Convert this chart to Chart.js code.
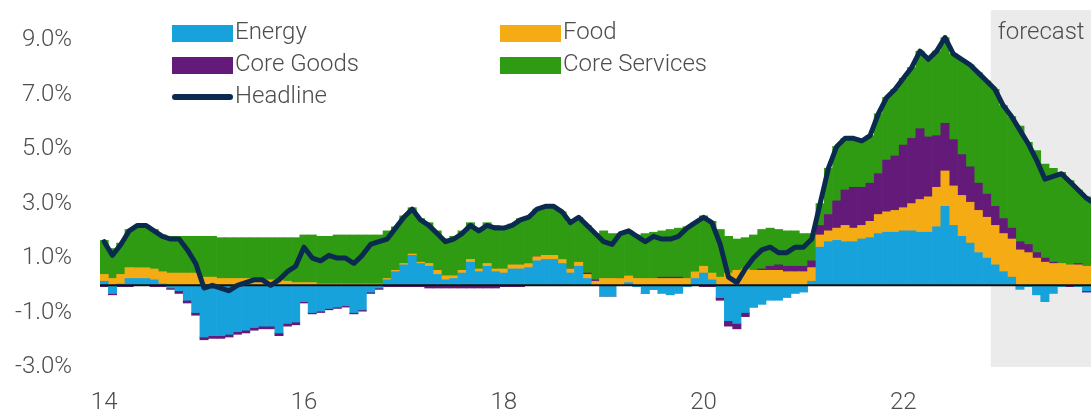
<!DOCTYPE html>
<html>
<head>
<meta charset="utf-8">
<script src="https://cdn.jsdelivr.net/npm/chart.js@4.4.1/dist/chart.umd.min.js"></script>
<style>
  html, body { margin: 0; padding: 0; background: #fff; overflow: hidden; }
  #wrap { width: 1099px; height: 415px; }
</style>
</head>
<body>
<div id="wrap"><canvas id="cpiChart" width="1099" height="415"></canvas></div>
<script>
// Categories: one bar per month, Jan 2014 - Dec 2023
const years = [2014, 2015, 2016, 2017, 2018, 2019, 2020, 2021, 2022, 2023];
const monthNames = ['Jan', 'Feb', 'Mar', 'Apr', 'May', 'Jun', 'Jul', 'Aug', 'Sep', 'Oct', 'Nov', 'Dec'];
const months = years.flatMap(y => monthNames.map(m => m + ' ' + y));

const xTickYears = [2014, 2016, 2018, 2020, 2022];
const yTicks = [-3, -1, 1, 3, 5, 7, 9];
const forecastStart = 'Dec 2022';

// Contributions to y/y CPI, pp (one row per year)
const energy = [
  0.15, -0.3, 0.05, 0.25, 0.25, 0.25, 0.2, 0.05, -0.1, -0.2, -0.55, -1.0,
  -1.9, -1.85, -1.85, -1.8, -1.7, -1.65, -1.55, -1.5, -1.5, -1.75, -1.4, -1.35,
  -0.6, -1.0, -0.95, -0.85, -0.8, -0.75, -1.0, -0.9, -0.25, -0.1, 0.2, 0.5,
  0.75, 1.1, 0.8, 0.7, 0.4, 0.2, 0.25, 0.45, 0.85, 0.5, 0.7, 0.5,
  0.45, 0.6, 0.6, 0.65, 0.9, 0.95, 0.95, 0.8, 0.45, 0.7, 0.25, 0.0,
  -0.4, -0.4, 0.0, 0.1, -0.05, -0.3, -0.15, -0.3, -0.35, -0.3, -0.05, 0.25,
  0.45, 0.2, -0.45, -1.3, -1.4, -1.0, -0.8, -0.7, -0.55, -0.55, -0.45, -0.3,
  -0.25, 0.15, 1.4, 1.6, 1.65, 1.6, 1.6, 1.7, 1.75, 1.9, 1.95, 1.95,
  2.0, 2.0, 1.95, 1.95, 2.15, 2.9, 2.2, 1.8, 1.55, 1.2, 1.0, 0.75,
  0.5, 0.3, -0.15, -0.05, -0.35, -0.6, -0.3, -0.05, 0.0, -0.05, -0.2, -0.05
];

const food = [
  0.25, 0.25, 0.35, 0.4, 0.4, 0.4, 0.4, 0.45, 0.45, 0.45, 0.45, 0.45,
  0.3, 0.3, 0.25, 0.25, 0.25, 0.25, 0.2, 0.2, 0.2, 0.2, 0.15, 0.1,
  0.1, 0.1, 0.05, 0.05, 0.05, 0.05, 0.05, 0.05, 0.05, 0.05, 0.05, 0.05,
  0.05, 0.05, 0.05, 0.1, 0.15, 0.15, 0.1, 0.1, 0.1, 0.1, 0.1, 0.1,
  0.15, 0.15, 0.15, 0.15, 0.15, 0.15, 0.15, 0.15, 0.15, 0.15, 0.15, 0.15,
  0.25, 0.25, 0.25, 0.25, 0.25, 0.25, 0.25, 0.25, 0.25, 0.25, 0.25, 0.25,
  0.25, 0.25, 0.3, 0.45, 0.55, 0.6, 0.55, 0.55, 0.55, 0.55, 0.5, 0.5,
  0.5, 0.5, 0.45, 0.4, 0.45, 0.6, 0.5, 0.5, 0.6, 0.7, 0.75, 0.8,
  0.85, 1.0, 1.2, 1.3, 1.45, 1.3, 1.45, 1.5, 1.5, 1.55, 1.5, 1.45,
  1.4, 1.4, 1.3, 1.2, 1.0, 0.85, 0.8, 0.8, 0.75, 0.75, 0.7, 0.65
];

const coreGoods = [
  -0.05, -0.05, -0.05, -0.05, 0.0, 0.0, -0.05, -0.05, -0.05, -0.1, -0.1, -0.1,
  -0.1, -0.1, -0.1, -0.1, -0.1, -0.1, -0.1, -0.1, -0.1, -0.1, -0.1, -0.1,
  -0.05, -0.05, -0.05, -0.05, -0.05, -0.05, -0.05, -0.05, -0.05, -0.05, -0.05, -0.05,
  -0.05, -0.05, -0.05, -0.1, -0.1, -0.1, -0.1, -0.1, -0.1, -0.1, -0.1, -0.1,
  -0.05, -0.05, -0.05, 0.0, 0.0, 0.0, 0.0, 0.0, 0.0, 0.0, 0.05, 0.05,
  0.0, 0.0, 0.0, 0.0, 0.0, 0.0, 0.0, 0.05, 0.05, 0.05, 0.0, 0.0,
  -0.05, -0.05, -0.1, -0.2, -0.2, -0.15, 0.0, 0.05, 0.15, 0.2, 0.2, 0.2,
  0.2, 0.25, 0.35, 0.6, 1.0, 1.3, 1.5, 1.4, 1.4, 1.5, 1.9, 2.0,
  2.3, 2.4, 2.6, 2.2, 1.9, 1.75, 1.7, 1.5, 1.3, 1.0, 0.85, 0.7,
  0.55, 0.4, 0.3, 0.3, 0.2, 0.15, 0.05, 0.0, -0.05, 0.05, -0.05, -0.1
];

const coreServices = [
  1.25, 1.1, 1.15, 1.4, 1.55, 1.55, 1.45, 1.35, 1.35, 1.35, 1.35, 1.35,
  1.5, 1.5, 1.5, 1.5, 1.5, 1.5, 1.55, 1.55, 1.55, 1.55, 1.6, 1.65,
  1.75, 1.75, 1.75, 1.75, 1.8, 1.8, 1.8, 1.8, 1.8, 1.8, 1.75, 1.6,
  1.75, 1.7, 1.6, 1.5, 1.45, 1.35, 1.45, 1.45, 1.35, 1.5, 1.5, 1.6,
  1.55, 1.5, 1.7, 1.7, 1.75, 1.8, 1.8, 1.75, 1.7, 1.65, 1.75, 1.7,
  1.75, 1.65, 1.65, 1.65, 1.6, 1.65, 1.7, 1.7, 1.75, 1.8, 1.9, 1.8,
  1.85, 1.9, 1.75, 1.35, 1.15, 1.15, 1.3, 1.45, 1.4, 1.3, 1.3, 1.3,
  1.2, 1.0, 0.8, 1.7, 2.0, 1.9, 1.8, 1.7, 1.75, 2.2, 2.3, 2.45,
  2.45, 2.6, 2.85, 2.85, 3.1, 3.15, 3.15, 3.5, 3.75, 4.05, 4.15, 4.3,
  4.15, 4.1, 4.25, 3.75, 3.75, 3.45, 3.45, 3.35, 3.1, 2.7, 2.55, 2.35
];

const headline = [
  1.6, 1.1, 1.5, 2.0, 2.2, 2.2, 2.0, 1.8, 1.7, 1.7, 1.3, 0.8,
  -0.1, 0.0, -0.1, -0.2, 0.0, 0.1, 0.2, 0.2, 0.0, 0.2, 0.5, 0.7,
  1.4, 1.0, 0.9, 1.1, 1.0, 1.0, 0.8, 1.1, 1.5, 1.6, 1.7, 2.1,
  2.5, 2.8, 2.4, 2.2, 1.9, 1.6, 1.7, 1.9, 2.2, 2.0, 2.2, 2.1,
  2.1, 2.2, 2.4, 2.5, 2.8, 2.9, 2.9, 2.7, 2.3, 2.5, 2.2, 1.9,
  1.6, 1.5, 1.9, 2.0, 1.8, 1.6, 1.8, 1.7, 1.7, 1.8, 2.1, 2.3,
  2.5, 2.3, 1.5, 0.3, 0.1, 0.6, 1.0, 1.3, 1.4, 1.2, 1.2, 1.4,
  1.4, 1.7, 3.0, 4.3, 5.1, 5.4, 5.4, 5.3, 5.5, 6.3, 6.9, 7.2,
  7.6, 8.0, 8.6, 8.3, 8.6, 9.1, 8.5, 8.3, 8.1, 7.8, 7.5, 7.2,
  6.6, 6.2, 5.7, 5.2, 4.6, 3.9, 4.0, 4.1, 3.8, 3.5, 3.2, 3.0
];

const FONT = 'Roboto, "Noto Sans", sans-serif';
const TEXT_COLOR = '#4d4d4d';

// Grey forecast box + label, drawn under the bars
const forecastShade = {
  id: 'forecastShade',
  beforeDatasetsDraw(chart) {
    const { ctx, chartArea, scales } = chart;
    const idx = months.indexOf(forecastStart);
    const half = (scales.x.getPixelForValue(1) - scales.x.getPixelForValue(0)) / 2;
    const left = scales.x.getPixelForValue(idx) - half;
    ctx.save();
    ctx.fillStyle = '#ebebeb';
    ctx.fillRect(left, chartArea.top - 3, chartArea.right - left, chartArea.bottom - chartArea.top + 3);
    ctx.fillStyle = TEXT_COLOR;
    ctx.font = '300 24px ' + FONT;
    ctx.textBaseline = 'middle';
    ctx.textAlign = 'left';
    ctx.fillText('forecast', left + 7, 33);
    ctx.restore();
  },
  // zero line goes in just before the headline so the line stays on top
  beforeDatasetDraw(chart, args) {
    if (args.meta.type !== 'line') return;
    const { ctx, chartArea, scales } = chart;
    const y0 = scales.y.getPixelForValue(0);
    ctx.save();
    ctx.strokeStyle = '#111';
    ctx.lineWidth = 2;
    ctx.beginPath();
    ctx.moveTo(chartArea.left, y0);
    ctx.lineTo(chartArea.right, y0);
    ctx.stroke();
    ctx.restore();
  }
};

// Two-column legend in the top left
const cornerLegend = {
  id: 'cornerLegend',
  afterDraw(chart) {
    const { ctx } = chart;
    const colX = [172, 500];
    const rowY = [33, 65, 97];
    ctx.save();
    ctx.font = '300 24px ' + FONT;
    ctx.textBaseline = 'middle';
    chart.data.datasets.forEach((ds, i) => {
      const x = colX[i % 2];
      const y = rowY[Math.floor(i / 2)];
      if (ds.type === 'line') {
        ctx.strokeStyle = ds.borderColor;
        ctx.lineWidth = 6;
        ctx.lineCap = 'round';
        ctx.beginPath();
        ctx.moveTo(x + 3, y);
        ctx.lineTo(x + 58, y);
        ctx.stroke();
      } else {
        ctx.fillStyle = ds.backgroundColor;
        ctx.fillRect(x, y - 8, 61, 17);
      }
      ctx.fillStyle = TEXT_COLOR;
      ctx.fillText(ds.label, x + 63, y);
    });
    ctx.restore();
  }
};

// pin the plot box: x from 100 to 1099 (last bar runs off the page), y from 10% to -3%
const pinArea = {
  id: 'pinArea',
  afterLayout(chart) {
    const area = chart.chartArea;
    const { x, y } = chart.scales;
    const left = 100, right = 1099, top = 13, bottom = 367;
    Object.assign(area, { left, right, top, bottom, width: right - left, height: bottom - top });
    Object.assign(y, { left: 8, right: left, width: left - 8, top, bottom, height: bottom - top });
    Object.assign(x, { left, right, width: right - left, top: bottom, bottom: 415, height: 415 - bottom });
    y.configure();
    x.configure();
  }
};

const barStyle = { categoryPercentage: 1, barPercentage: 1, borderWidth: 0, order: 1 };
const tickFont = { family: FONT, size: 24, weight: 300 };

const ctx = document.getElementById('cpiChart').getContext('2d');
new Chart(ctx, {
  type: 'bar',
  data: {
    labels: months,
    datasets: [
      { label: 'Energy', data: energy, backgroundColor: '#17a2dc', ...barStyle },
      { label: 'Food', data: food, backgroundColor: '#f5ab13', ...barStyle },
      { label: 'Core Goods', data: coreGoods, backgroundColor: '#641a78', ...barStyle },
      { label: 'Core Services', data: coreServices, backgroundColor: '#2e9b12', ...barStyle },
      {
        label: 'Headline',
        type: 'line',
        data: headline,
        stack: 'headline',
        borderColor: '#0b2a4f',
        borderWidth: 5,
        pointRadius: 0,
        tension: 0,
        borderJoinStyle: 'round',
        borderCapStyle: 'round',
        order: 0
      }
    ]
  },
  options: {
    responsive: false,
    animation: false,
    layout: { padding: { left: 8, top: 13, right: 0, bottom: 0 } },
    plugins: {
      legend: { display: false },
      tooltip: { enabled: false }
    },
    scales: {
      x: {
        stacked: true,
        offset: true,
        grid: { display: false, drawTicks: false },
        border: { display: false },
        ticks: {
          autoSkip: false,
          maxRotation: 0,
          padding: 22,
          color: TEXT_COLOR,
          font: tickFont,
          callback(value) {
            const [m, y] = this.getLabelForValue(value).split(' ');
            return m === 'Jan' && xTickYears.includes(+y) ? y.slice(2) : '';
          }
        },
        afterFit(scale) { scale.height = 48; }
      },
      y: {
        stacked: true,
        min: -3,
        max: 10,
        grid: { display: false, drawTicks: false },
        border: { display: false },
        afterBuildTicks(scale) { scale.ticks = yTicks.map(v => ({ value: v })); },
        ticks: {
          padding: 28,
          color: TEXT_COLOR,
          font: tickFont,
          callback: v => v.toFixed(1) + '%'
        },
        afterFit(scale) {
          scale.width = 92;
          scale.paddingTop = 0;
          scale.paddingBottom = 0;
        }
      }
    }
  },
  plugins: [pinArea, forecastShade, cornerLegend]
});
</script>
</body>
</html>
